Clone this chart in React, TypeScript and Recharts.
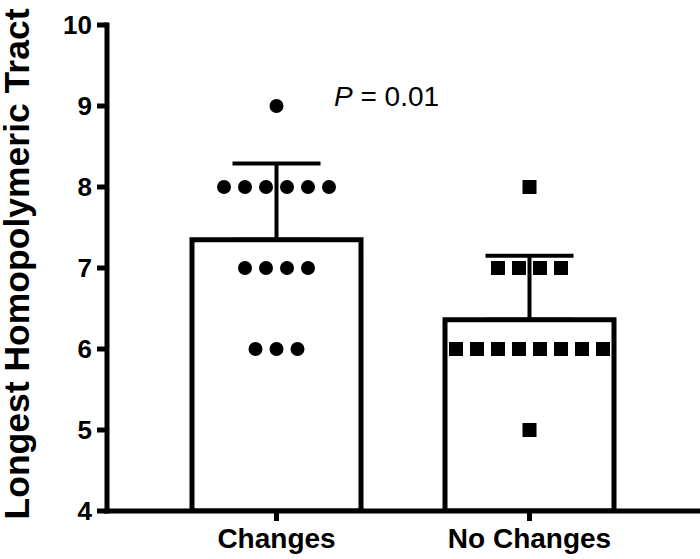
import { ComposedChart, Bar, Scatter, ErrorBar, XAxis, YAxis } from "recharts";

const groups = ["Changes", "No Changes"];
const groupMeans = [7.35, 6.36];
const groupErrors = [0.94, 0.79];
const changesValues = [9, 8, 8, 8, 8, 8, 8, 7, 7, 7, 7, 6, 6, 6];
const noChangesValues = [8, 7, 7, 7, 7, 6, 6, 6, 6, 6, 6, 6, 6, 5];
const yTicks = [4, 5, 6, 7, 8, 9, 10];

const FONT = "'Liberation Sans', Arial, Helvetica, sans-serif";
const DOT_GAP = 21;

const barData = groups.map((name, i) => ({
  name,
  mean: groupMeans[i],
  err: [0, groupErrors[i]],
}));

// spread duplicate values sideways within a row, centred on the category
function toPoints(name: string, values: number[]) {
  const counts: Record<number, number> = {};
  values.forEach((v) => (counts[v] = (counts[v] || 0) + 1));
  const seen: Record<number, number> = {};
  return values.map((v) => {
    const k = seen[v] || 0;
    seen[v] = k + 1;
    return { name, value: v, slot: k - (counts[v] - 1) / 2 };
  });
}

const changesPoints = toPoints(groups[0], changesValues);
const noChangesPoints = toPoints(groups[1], noChangesValues);

const CircleDot = (p: any) => (
  <circle cx={p.cx + p.payload.slot * DOT_GAP} cy={p.cy} r={7} fill="#000" />
);
const SquareDot = (p: any) => (
  <rect x={p.cx + p.payload.slot * DOT_GAP - 7} y={p.cy - 7} width={14} height={14} fill="#000" />
);

const axisStroke = { stroke: "#000", strokeWidth: 5, strokeLinecap: "square" as const };
const tickStroke = { stroke: "#000", strokeWidth: 5 };

export default function App() {
  return (
    <div style={{ position: "absolute", left: 0, top: 0, width: 700, height: 559, background: "#fff" }}>
      <ComposedChart
        width={700}
        height={559}
        data={barData}
        margin={{ top: 25, right: 0, bottom: 0, left: 0 }}
      >
        <XAxis
          dataKey="name"
          type="category"
          allowDuplicatedCategory={false}
          padding={{ left: 43, right: 44 }}
          axisLine={axisStroke}
          tickLine={tickStroke}
          tickSize={10}
          tickMargin={7}
          tick={{ fill: "#000", fontSize: 28, fontWeight: 700, fontFamily: FONT }}
          height={48}
        />
        <YAxis
          type="number"
          domain={[4, 10]}
          ticks={yTicks}
          allowDataOverflow
          width={107}
          axisLine={axisStroke}
          tickLine={tickStroke}
          tickSize={10}
          tickMargin={5}
          tick={{ fill: "#000", fontSize: 26, fontWeight: 700, fontFamily: FONT }}
          label={{
            content: () => (
              <text
                x={29}
                y={264}
                transform="rotate(-90 29 264)"
                textAnchor="middle"
                fill="#000"
                fontSize={35.5}
                fontWeight={700}
                fontFamily={FONT}
              >
                Longest Homopolymeric Tract
              </text>
            ),
          }}
        />
        <Bar
          dataKey="mean"
          fill="#fff"
          stroke="#000"
          strokeWidth={5}
          barSize={169}
          isAnimationActive={false}
        >
          <ErrorBar dataKey="err" direction="y" width={44} stroke="#000" strokeWidth={4} />
        </Bar>
        <Scatter data={changesPoints} dataKey="value" shape={CircleDot} isAnimationActive={false} />
        <Scatter data={noChangesPoints} dataKey="value" shape={SquareDot} isAnimationActive={false} />
        <text x={334} y={106} fill="#000" fontSize={28} fontFamily={FONT}>
          <tspan fontStyle="italic">P</tspan>
          <tspan> = 0.01</tspan>
        </text>
      </ComposedChart>
    </div>
  );
}
